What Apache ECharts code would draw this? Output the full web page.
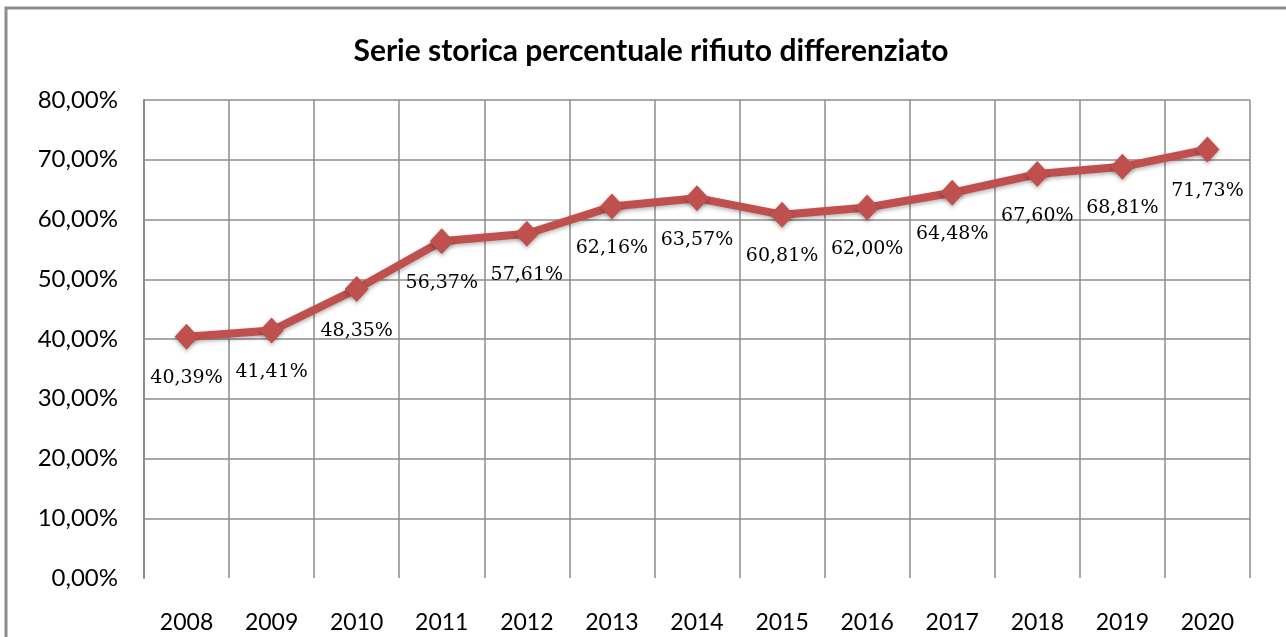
<!DOCTYPE html>
<html>
<head>
<meta charset="utf-8">
<script src="https://cdn.jsdelivr.net/npm/echarts@6/dist/echarts.min.js"></script>
<style>
html,body{margin:0;padding:0;background:#fff;}
#chart{width:1286px;height:637px;}
</style>
</head>
<body>
<div id="chart"></div>
<script>
var titleText = 'Serie storica percentuale rifiuto differenziato';
var years = ['2008','2009','2010','2011','2012','2013','2014','2015','2016','2017','2018','2019','2020'];
var percentValues = [40.39, 41.41, 48.35, 56.37, 57.61, 62.16, 63.57, 60.81, 62.00, 64.48, 67.60, 68.81, 71.73];

function fmt(v) {
  return v.toFixed(2).replace('.', ',') + '%';
}

var chart = echarts.init(document.getElementById('chart'), null, {renderer: 'canvas'});
chart.setOption({
  backgroundColor: '#ffffff',
  animation: false,
  title: {
    text: titleText,
    left: 646,
    top: 31,
    textAlign: 'center',
    textStyle: {fontFamily: 'Lato', fontWeight: 'bold', fontSize: 30, color: '#000'}
  },
  graphic: [{
    type: 'rect',
    shape: {x: 6, y: 8, width: 1300, height: 700},
    style: {fill: 'none', stroke: '#8c8c8c', lineWidth: 3},
    silent: true,
    z: 100
  }],
  grid: {left: 144, right: 36, top: 100, bottom: 59, containLabel: false},
  xAxis: {
    type: 'category',
    data: years,
    boundaryGap: true,
    axisLine: {show: false},
    axisTick: {show: false},
    axisLabel: {fontFamily: 'Lato', fontSize: 23, color: '#000', margin: 33},
    splitLine: {show: true, lineStyle: {color: '#8c8c8c', width: 1.5}}
  },
  yAxis: {
    type: 'value',
    min: 0,
    max: 80,
    interval: 10,
    axisLine: {show: true, lineStyle: {color: '#8c8c8c', width: 2}},
    axisTick: {show: false},
    axisLabel: {fontFamily: 'Lato', fontSize: 24, color: '#000', margin: 26,
      formatter: function (v) { return v.toFixed(2).replace('.', ',') + '%'; }},
    splitLine: {show: true, showMinLine: false, lineStyle: {color: '#8c8c8c', width: 1.5}}
  },
  series: [{
    type: 'line',
    data: percentValues,
    symbol: 'diamond',
    symbolSize: [24, 26],
    lineStyle: {color: '#c0504d', width: 8, shadowColor: 'rgba(0,0,0,0.3)', shadowBlur: 4, shadowOffsetY: 2},
    itemStyle: {color: '#c0504d', shadowColor: 'rgba(0,0,0,0.3)', shadowBlur: 4, shadowOffsetY: 2},
    label: {
      show: true,
      position: 'bottom',
      distance: 19,
      fontFamily: 'DejaVu Serif',
      fontSize: 19,
      color: '#000',
      formatter: function (p) { return fmt(p.value); }
    }
  }]
});
</script>
</body>
</html>
